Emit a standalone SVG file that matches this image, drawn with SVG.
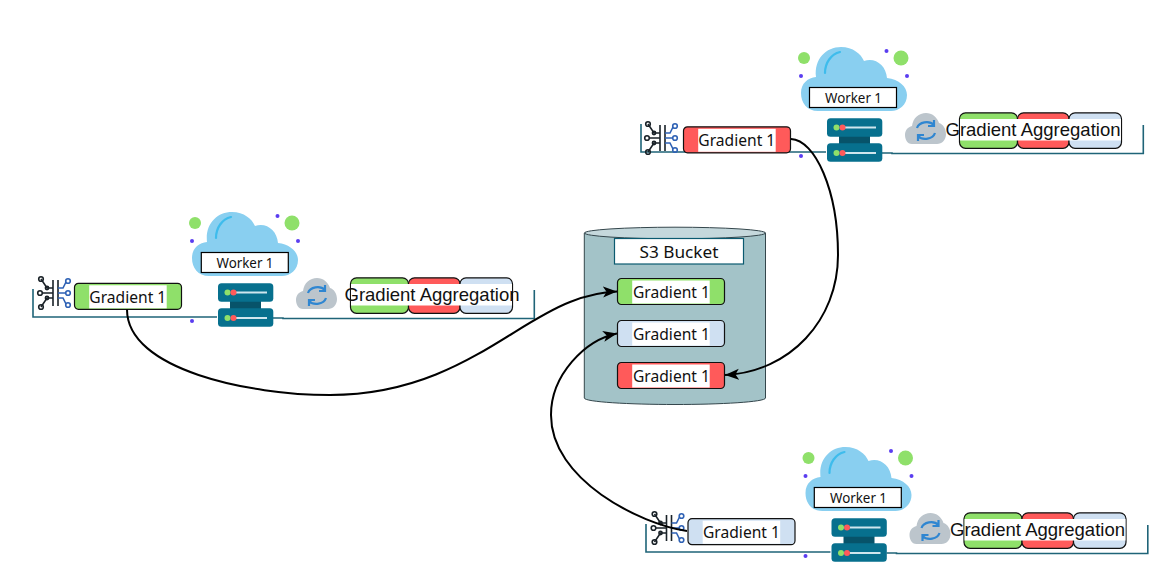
<svg xmlns="http://www.w3.org/2000/svg" xmlns:xlink="http://www.w3.org/1999/xlink" width="1159" height="574" viewBox="0 0 1159 574">
<style>
.box{stroke:#111;stroke-width:1.2}
.g{fill:#8fe06a}.r{fill:#ff5a5a}.b{fill:#cfe0f2}
.band{fill:#fff}
.t{font-family:"Noto Sans","Open Sans","Liberation Sans",sans-serif;font-size:16px;fill:#111;text-anchor:middle}
.a{font-family:"Liberation Sans",Arial,sans-serif;font-size:18.5px;fill:#111;text-anchor:middle}
.wl{fill:#fff;stroke:#000;stroke-width:1.2}
.rail{fill:none;stroke:#1f6478;stroke-width:1.6}
.conn{fill:none;stroke:#000;stroke-width:2;marker-end:url(#arrow)}
.conn0{fill:none;stroke:#000;stroke-width:2}
.nk{fill:none;stroke:#1a2228;stroke-width:1.6}
.nb{fill:none;stroke:#2f62b5;stroke-width:1.6}
</style>
<defs>
<marker id="arrow" markerUnits="userSpaceOnUse" markerWidth="16" markerHeight="12" refX="14" refY="6" orient="auto">
<path d="M0 0.5 L14 6 L0 11.5 L3.5 6 Z" fill="#000"/>
</marker>
<g id="cloud">
<path d="M209 276 C198 276 192 268 192 258 C192 248 199 243 207 242 C205 224 217 212 232 212 C244 212 252 219 255 226 C266 222 277 230 278 243 C290 244 298 252 298 260 C298 270 290 276 282 276 Z" fill="#89cff0"/>
<path d="M216 238 C216 228 222 219 231 217" fill="none" stroke="#3ebcec" stroke-width="2.2" stroke-linecap="round"/>
<circle cx="195" cy="223" r="6" fill="#8fe06a"/>
<circle cx="292" cy="223" r="7.5" fill="#8fe06a"/>
<circle cx="277.500" cy="216" r="2" fill="#5a3df0"/>
<circle cx="192" cy="241" r="2" fill="#5a3df0"/>
<circle cx="298" cy="241" r="2" fill="#5a3df0"/>
<circle cx="192" cy="321" r="2" fill="#5a3df0"/>
</g>
<g id="server">
<rect x="230" y="300" width="31" height="10" fill="#07536a"/>
<rect x="218" y="283.300" width="55.300" height="18.500" rx="3.500" fill="#07708e"/>
<rect x="218" y="308.300" width="55.300" height="18.500" rx="3.500" fill="#07708e"/>
<path d="M236 292.500H267M236 318H267" stroke="#cfe6ee" stroke-width="2.200"/>
<circle cx="227.500" cy="292.500" r="3" fill="#8fe06a"/>
<circle cx="233.500" cy="292.500" r="3" fill="#ff5a5a"/>
<circle cx="227.500" cy="318" r="3" fill="#8fe06a"/>
<circle cx="233.500" cy="318" r="3" fill="#ff5a5a"/>
</g>
<g id="net">
<path class="nk" d="M53 280V306M58 280V306M53 288H47L41 279M53 293H42M53 298H47L41 307"/>
<circle class="nk" cx="41" cy="279" r="2.300"/><circle class="nk" cx="40" cy="293" r="2.300"/><circle class="nk" cx="41" cy="307" r="2.300"/>
<circle class="nk" cx="47" cy="288" r="1.600"/><circle class="nk" cx="47" cy="298" r="1.600"/>
<path class="nb" d="M58 288H63L66 282M58 293H66M58 298H63L66 304"/>
<circle class="nb" cx="68" cy="281" r="2.300"/><circle class="nb" cx="68" cy="293" r="2.300"/><circle class="nb" cx="68" cy="305" r="2.300"/>
</g>
<g id="sync">
<path d="M303 309 C298 309 296 304 296 300 C296 295 299 292 303 291 C304 283 310 278 317 278 C323 278 328 282 330 288 C334 289 337 294 337 299 C337 305 333 309 328 309 Z" fill="#bcc5cc"/>
<path d="M308 293 C310 287 320 285 325 290 M325 285 V291 H319" fill="none" stroke="#2f86d1" stroke-width="2.200"/>
<path d="M326 298 C324 304 314 306 309 301 M309 306 V300 H315" fill="none" stroke="#2f86d1" stroke-width="2.200"/>
</g>
<g id="agg">
<rect class="box g" x="350.500" y="277.800" width="58" height="35.500" rx="6"/>
<rect class="box r" x="408.500" y="277.800" width="51.500" height="35.500" rx="6"/>
<rect class="box b" x="460" y="277.800" width="52.500" height="35.500" rx="6"/>
<rect class="band" x="351" y="284" width="161" height="21.500"/>
</g>
<g id="grad">
<rect class="box" x="0" y="0" width="107" height="26" rx="4"/>
<rect class="band" x="14.700" y="2" width="77.500" height="23"/>
</g>
</defs>

<g id="worker-left">
<path class="rail" d="M33 289V317H217M273 318H283V318.500H534.300V290"/>
<use href="#cloud"/>
<rect class="wl" x="201.300" y="252.500" width="87" height="20"/>
<text class="t" x="245" y="268" font-size="14" style="font-size:14px" textLength="57" lengthAdjust="spacingAndGlyphs">Worker 1</text>
<use href="#server"/>
<use href="#net"/>
<use href="#sync"/>
<use href="#agg"/>
<text class="a" x="432" y="301" textLength="175" lengthAdjust="spacingAndGlyphs">Gradient Aggregation</text>
<use href="#grad" transform="translate(74.500 283.300)" class="g"/>
<text class="t" x="127.800" y="302.500" textLength="77" lengthAdjust="spacingAndGlyphs">Gradient 1</text>
</g>

<g id="worker-top" transform="translate(609 -165)">
<path class="rail" d="M32 289V317H217M273 318H283V318.500H534.300V290"/>
<use href="#cloud"/>
<rect class="wl" x="200.500" y="252.500" width="87" height="20"/>
<text class="t" x="244.500" y="268" style="font-size:14px" textLength="57" lengthAdjust="spacingAndGlyphs">Worker 1</text>
<use href="#server"/>
<use href="#net" transform="translate(-2 10)"/>
<use href="#sync"/>
<use href="#agg"/>
<text class="a" x="424" y="301" textLength="175" lengthAdjust="spacingAndGlyphs">Gradient Aggregation</text>
<use href="#grad" transform="translate(74.500 291.800)" class="r"/>
<text class="t" x="127.800" y="311" textLength="77" lengthAdjust="spacingAndGlyphs">Gradient 1</text>
</g>

<g id="worker-bottom" transform="translate(613.500 235)">
<path class="rail" d="M32.500 289V317H217M273 318H283V318.500H534.300V290"/>
<use href="#cloud"/>
<rect class="wl" x="200.800" y="252.500" width="87" height="20"/>
<text class="t" x="245" y="268" style="font-size:14px" textLength="57" lengthAdjust="spacingAndGlyphs">Worker 1</text>
<use href="#server"/>
<use href="#net"/>
<use href="#sync"/>
<use href="#agg"/>
<text class="a" x="424" y="301" textLength="175" lengthAdjust="spacingAndGlyphs">Gradient Aggregation</text>
<use href="#grad" transform="translate(74.500 283.700)" class="b"/>
<text class="t" x="128" y="303" textLength="77" lengthAdjust="spacingAndGlyphs">Gradient 1</text>
</g>

<g id="s3-bucket">
<path d="M584.300 233V398C584.300 402 630 404.500 675 404.500C720 404.500 765.500 402 765.500 398V233Z" fill="#a3c3c8" stroke="#34464c" stroke-width="1"/>
<ellipse cx="675" cy="233" rx="90.500" ry="5.800" fill="#c5d8dc" stroke="#34464c" stroke-width="1"/>
<rect x="614.500" y="238.500" width="129" height="25.500" fill="#fff" stroke="#0b5a70" stroke-width="1.200"/>
<text class="t" x="679" y="258" textLength="79" lengthAdjust="spacingAndGlyphs">S3 Bucket</text>
</g>
<g id="bucket-green">
<use href="#grad" transform="translate(617.500 278.500)" class="g"/>
<text class="t" x="671.500" y="297.500" textLength="77" lengthAdjust="spacingAndGlyphs">Gradient 1</text>
</g>
<g id="bucket-blue">
<use href="#grad" transform="translate(617.500 320.500)" class="b"/>
<text class="t" x="671.500" y="339.500" textLength="77" lengthAdjust="spacingAndGlyphs">Gradient 1</text>
</g>
<g id="bucket-red">
<use href="#grad" transform="translate(617.500 362.500)" class="r"/>
<text class="t" x="671.500" y="381.500" textLength="77" lengthAdjust="spacingAndGlyphs">Gradient 1</text>
</g>

<g id="connectors">
<path class="conn" d="M127 309.500C127 370 250 395 330 395C450 395 510 325 570 302C585 296 600 292 617 291.500"/>
<path class="conn" d="M791 139C815 140 838 190 838 255C838 320 790 372 725 375"/>
<path class="conn" d="M687 531C640 524 551 480 551 415C551 375 585 340 617 333.500"/>
</g>
</svg>
